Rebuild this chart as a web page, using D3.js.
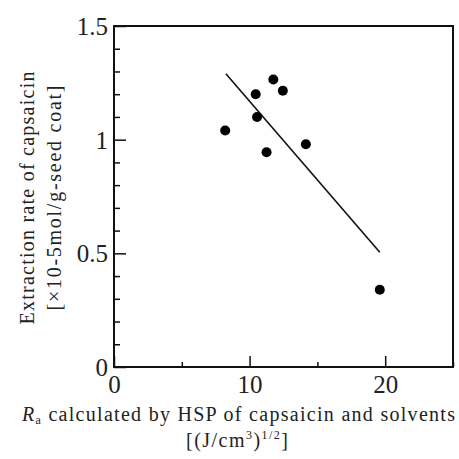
<!DOCTYPE html>
<html>
<head>
<meta charset="utf-8">
<script src="https://cdn.jsdelivr.net/npm/d3@7"></script>
<style>
  body { margin: 0; background: #fff; }
  svg { display: block; }
  text { font-family: "Liberation Serif", "Times New Roman", serif; fill: #222; }
</style>
</head>
<body>
<svg id="chart" width="459" height="459"></svg>
<script>
// Ra (x) vs extraction rate (y)
const raValues = [8.2, 10.45, 10.55, 11.25, 11.75, 12.45, 14.15, 19.6];
const rateValues = [1.04, 1.2, 1.1, 0.945, 1.265, 1.215, 0.98, 0.34];
// fitted line end points as drawn
const fitX = [8.25, 19.6];
const fitY = [1.29, 0.505];

const xMajorTicks = [0, 10, 20];
const xMinorTicks = [5, 15, 25];
const yMajorTicks = [0, 0.5, 1, 1.5];
const yMinorTicks = [0.1, 0.2, 0.3, 0.4, 0.6, 0.7, 0.8, 0.9, 1.1, 1.2, 1.3, 1.4];

const width = 459, height = 459;
const margin = { top: 26, right: 6, bottom: 92, left: 114 };
const innerW = width - margin.left - margin.right;
const innerH = height - margin.top - margin.bottom;

const svg = d3.select("#chart");
const g = svg.append("g").attr("transform", `translate(${margin.left},${margin.top})`);

const x = d3.scaleLinear().domain([0, 25]).range([0, innerW]);
const y = d3.scaleLinear().domain([0, 1.5]).range([innerH, 0]);

// frame
g.append("rect")
  .attr("width", innerW).attr("height", innerH)
  .attr("fill", "none").attr("stroke", "#111").attr("stroke-width", 2);

// y axis: minor then major ticks, pointing inward
g.append("g")
  .call(d3.axisLeft(y).tickValues(yMinorTicks).tickSize(-6).tickFormat(""))
  .call((a) => a.select(".domain").remove());
g.append("g")
  .call(d3.axisLeft(y).tickValues(yMajorTicks).tickSize(-12).tickPadding(6)
    .tickFormat((d) => String(d)))
  .call((a) => a.select(".domain").remove())
  .call((a) => a.selectAll("text").attr("font-size", 25).attr("dy", "0.34em"));

// x axis
const xAxisG = g.append("g").attr("transform", `translate(0,${innerH})`);
xAxisG.append("g")
  .call(d3.axisBottom(x).tickValues(xMinorTicks).tickSize(-5).tickFormat(""))
  .call((a) => a.select(".domain").remove());
xAxisG.append("g")
  .call(d3.axisBottom(x).tickValues(xMajorTicks).tickSize(-11).tickPadding(8)
    .tickFormat((d) => String(d)))
  .call((a) => a.select(".domain").remove())
  .call((a) => a.selectAll("text").attr("font-size", 25));

svg.selectAll(".tick line").attr("stroke", "#111").attr("stroke-width", 1.5);

// fitted line
g.append("line")
  .attr("x1", x(fitX[0])).attr("y1", y(fitY[0]))
  .attr("x2", x(fitX[1])).attr("y2", y(fitY[1]))
  .attr("stroke", "#111").attr("stroke-width", 1.6);

// points
g.selectAll("circle.pt")
  .data(raValues.map((v, i) => [v, rateValues[i]]))
  .join("circle")
  .attr("class", "pt")
  .attr("cx", (d) => x(d[0]))
  .attr("cy", (d) => y(d[1]))
  .attr("r", 5)
  .attr("fill", "#000");

// x title
const xt1 = svg.append("text")
  .attr("x", 22).attr("y", 421)
  .attr("font-size", 20).attr("fill", "#333")
  .attr("textLength", 433).attr("lengthAdjust", "spacing");
xt1.append("tspan").attr("font-style", "italic").text("R");
xt1.append("tspan").attr("font-size", 12).attr("dy", 3).text("a");
xt1.append("tspan").attr("dy", -3).text(" calculated by HSP of capsaicin and solvents");

const xt2 = svg.append("text")
  .attr("x", 186).attr("y", 447)
  .attr("font-size", 20).attr("fill", "#333")
  .attr("textLength", 102).attr("lengthAdjust", "spacing");
xt2.append("tspan").text("[(J/cm");
xt2.append("tspan").attr("font-size", 12).attr("dy", -8).text("3");
xt2.append("tspan").attr("dy", 8).text(")");
xt2.append("tspan").attr("font-size", 12).attr("dy", -8).text("1/2");
xt2.append("tspan").attr("dy", 8).text("]");

// y title, two rotated lines
const yCenter = 198;
svg.append("text")
  .attr("transform", `translate(34,${yCenter}) rotate(-90)`)
  .attr("text-anchor", "middle")
  .attr("font-size", 20).attr("fill", "#333")
  .attr("textLength", 253).attr("lengthAdjust", "spacing")
  .text("Extraction rate of capsaicin");
svg.append("text")
  .attr("transform", `translate(61,${yCenter}) rotate(-90)`)
  .attr("text-anchor", "middle")
  .attr("font-size", 20).attr("fill", "#333")
  .attr("textLength", 225).attr("lengthAdjust", "spacing")
  .text("[×10-5mol/g-seed coat]");
</script>
</body>
</html>
